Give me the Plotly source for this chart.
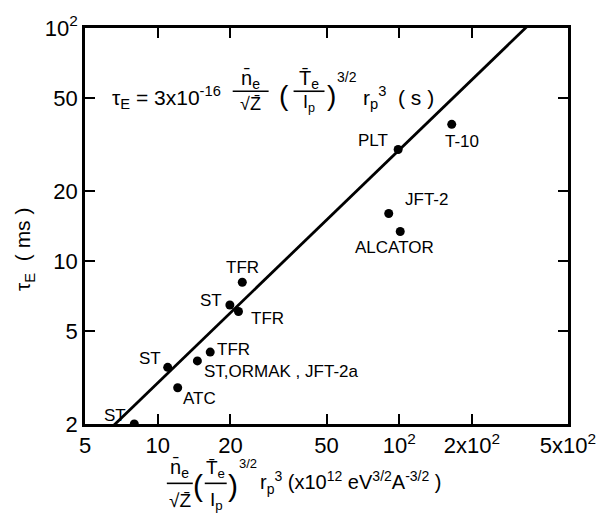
import numpy as np
import plotly.graph_objects as go

# Device labels and measured values
devices = ["ST", "ATC", "ST", "ST,ORMAK , JFT-2a", "TFR", "TFR", "ST", "TFR",
           "PLT", "T-10", "JFT-2", "ALCATOR"]
scaling_param = [8.0, 12.1, 11.0, 14.6, 16.5, 21.6, 19.9, 22.4, 99.0, 165.0, 90.5, 101.0]
tau_e_ms = [2.0, 2.86, 3.50, 3.73, 4.07, 6.08, 6.48, 8.11, 30.1, 38.6, 16.0, 13.4]

# Scaling law: tau_E = 3e-16 * X[1e12 units] seconds  ->  ms
coef_si = 3e-16
x_unit = 1e12
coef_ms = coef_si * x_unit * 1e3
law_x = [5.0, 500.0]
law_y = [coef_ms * v for v in law_x]

x_ticks = [5, 10, 20, 50, 100, 200, 500]
x_tick_text = ["5", "10", "20", "50", "10<sup>2</sup>", "2x10<sup>2</sup>", "5x10<sup>2</sup>"]
y_ticks = [2, 5, 10, 20, 50, 100]
y_tick_text = ["2", "5", "10", "20", "50", "10<sup>2</sup>"]

# label placement relative to each dot (pixels: dx, dy, xanchor)
label_offsets = [(-19, 9, "center"), (22, -11, "center"), (-18, 9, "center"),
                 (5, -11, "left"), (23, 3, "center"), (29, -7, "center"),
                 (-19, 5, "center"), (0, 15, "center"), (-25, 9, "center"),
                 (10, -17, "center"), (38, 14, "center"), (-6, -16, "center")]

FONT = "Liberation Sans, Arial, sans-serif"
W, H = 608, 521
L, R, T, B = 85, 569, 17, 424


def px(x):
    return (x - L) / (R - L)


def py(y):
    return (B - y) / (B - T)


fig = go.Figure()

fig.add_trace(go.Scatter(x=law_x, y=law_y, mode="lines",
                         line=dict(color="black", width=2.8),
                         hoverinfo="skip", showlegend=False))
fig.add_trace(go.Scatter(x=scaling_param, y=tau_e_ms, mode="markers",
                         marker=dict(color="black", size=9),
                         cliponaxis=True, showlegend=False))

annotations = []
for name, xv, yv, (dx, dy, anc) in zip(devices, scaling_param, tau_e_ms, label_offsets):
    annotations.append(dict(x=np.log10(xv), y=np.log10(yv), xref="x", yref="y",
                            text=name, showarrow=False, xanchor=anc, yanchor="middle",
                            xshift=dx, yshift=dy,
                            font=dict(family=FONT, size=17, color="black")))


def txt(x, y, s, size, anchor="center"):
    annotations.append(dict(x=px(x), y=py(y), xref="paper", yref="paper", text=s,
                            showarrow=False, xanchor=anchor, yanchor="middle",
                            font=dict(family=FONT, size=size, color="black")))


shapes = []


def bar(x0, x1, y):
    shapes.append(dict(type="line", xref="paper", yref="paper",
                       x0=px(x0), x1=px(x1), y0=py(y), y1=py(y),
                       line=dict(color="black", width=1.6)))


# formula inside the plot
txt(110, 88, "τ<sub>E</sub> = 3x10<sup>-16</sup>", 21, "left")
txt(251, 70, "n\u0304<sub>e</sub>", 20)
bar(233, 269, 82)
txt(251, 95, "√Z\u0304", 18)
txt(284, 86, "(", 28)
txt(309, 70, "T\u0304<sub>e</sub>", 20)
bar(294, 325, 82)
txt(309, 95, "I<sub>p</sub>", 18)
txt(332, 86, ")", 28)
txt(336, 67, "3/2", 14, "left")
txt(362, 88, "r<sub>p</sub><sup>3</sup>  ( s )", 21, "left")

# x-axis title
txt(180, 470, "n\u0304<sub>e</sub>", 20)
bar(167, 193, 485)
txt(180, 503, "√Z\u0304", 19)
txt(198, 487, "(", 30)
txt(216, 470, "T\u0304<sub>e</sub>", 19)
bar(205, 227, 485)
txt(217, 503, "I<sub>p</sub>", 19)
txt(233, 487, ")", 30)
txt(237, 465, "3/2", 13, "left")
txt(258, 484, "r<sub>p</sub><sup>3</sup> (x10<sup>12</sup> eV<sup>3/2</sup>A<sup>-3/2</sup> )", 20, "left")

# y-axis title
annotations.append(dict(x=px(24), y=py(245), xref="paper", yref="paper",
                        text="τ<sub>E</sub>  ( ms )", textangle=-90, showarrow=False,
                        xanchor="center", yanchor="middle",
                        font=dict(family=FONT, size=21, color="black")))

axis_common = dict(type="log", showgrid=False, zeroline=False, showline=True,
                   linecolor="black", linewidth=2.5, mirror="ticks", ticks="inside",
                   ticklen=10, tickwidth=1.5, tickcolor="black",
                   tickfont=dict(family=FONT, size=22, color="black"))

fig.update_xaxes(range=[np.log10(5), np.log10(500)], tickmode="array",
                 tickvals=x_ticks, ticktext=x_tick_text, **axis_common)
fig.update_yaxes(range=[np.log10(2), np.log10(100)], tickmode="array",
                 tickvals=y_ticks, ticktext=y_tick_text, **axis_common)

fig.update_layout(width=W, height=H, margin=dict(l=L, r=W - R, t=T, b=H - B),
                  plot_bgcolor="white", paper_bgcolor="white",
                  annotations=annotations, shapes=shapes, showlegend=False)

fig.write_html("out.html")
